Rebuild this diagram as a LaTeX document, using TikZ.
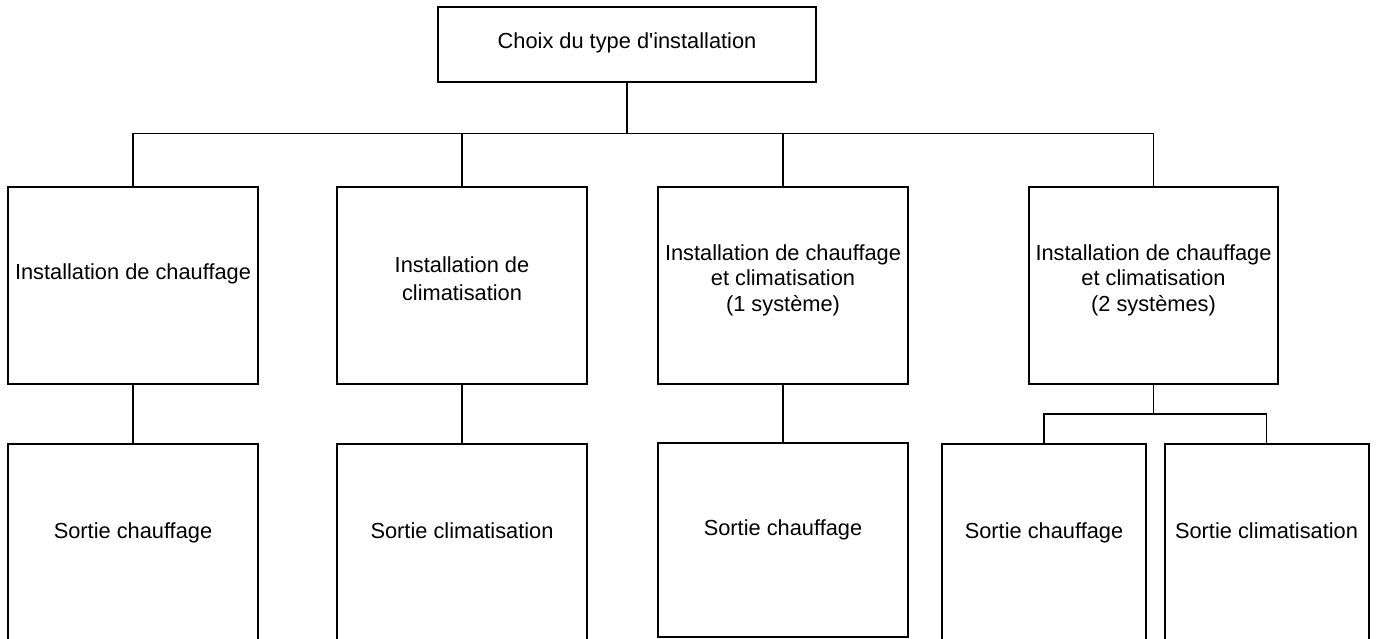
\documentclass[tikz,border=0pt]{standalone}
\usepackage{fontspec}
\setmainfont{Liberation Sans}
\begin{document}
\begin{tikzpicture}[x=1pt,y=-1pt,
  box/.style={draw=black,line width=2pt,rectangle,inner sep=0pt},
  txt/.style={anchor=base,inner sep=0pt,font=\fontsize{21.8}{25.6}\selectfont},
  conn/.style={line width=1.6pt},
  thinconn/.style={line width=1pt}]
\useasboundingbox (0,0) rectangle (1376,639);
\clip (0,0) rectangle (1376,639);

% top box
\node[box,minimum width=378pt,minimum height=74.5pt] (top) at (627,44.75) {};
\node[txt] (ttop) at (627,49) {Choix du type d\textquotesingle installation};

% row 2
\node[box,minimum width=250pt,minimum height=197pt] (r2a) at (133,285.2) {};
\node[box,minimum width=250pt,minimum height=197pt] (r2b) at (462,285.2) {};
\node[box,minimum width=250pt,minimum height=197pt] (r2c) at (783,285.2) {};
\node[box,minimum width=249pt,minimum height=197pt] (r2d) at (1153.5,285.2) {};

\node[txt] (t2a) at (133,279) {Installation de chauffage};
\node[txt] (t2b1) at (462,272.5) {Installation de};
\node[txt] (t2b2) at (462,300) {climatisation};
\node[txt] (t2c1) at (783,260) {Installation de chauffage};
\node[txt] (t2c2) at (783,285.5) {et climatisation};
\node[txt] (t2c3) at (783,311) {(1 système)};
\node[txt] (t2d1) at (1153.5,260) {Installation de chauffage};
\node[txt] (t2d2) at (1153.5,285.5) {et climatisation};
\node[txt] (t2d3) at (1153.5,311) {(2 systèmes)};

% row 3
\node[box,minimum width=250pt,minimum height=236pt] (r3a) at (133,562) {};
\node[box,minimum width=250pt,minimum height=236pt] (r3b) at (462,562) {};
\node[box,minimum width=250pt,minimum height=193.8pt] (r3c) at (783,539.6) {};
\node[box,minimum width=204pt,minimum height=236pt] (r3e) at (1044,562) {};
\node[box,minimum width=204pt,minimum height=236pt] (r3f) at (1266.5,562) {};

\node[txt] (t3a) at (133,538) {Sortie chauffage};
\node[txt] (t3b) at (462,538) {Sortie climatisation};
\node[txt] (t3c) at (783,535) {Sortie chauffage};
\node[txt] (t3e) at (1044,538) {Sortie chauffage};
\node[txt] (t3f) at (1266.5,538) {Sortie climatisation};

% connectors
\coordinate (bus) at (627,133.5);
\draw[conn] (top.south) -- (bus);
\draw[conn] (r2a.north) |- (bus) -- (r2d.north |- bus);
\draw[thinconn] (r2d.north |- bus) -- (r2d.north);
\draw[conn] (r2b.north) -- (r2b.north |- bus);
\draw[conn] (r2c.north) -- (r2c.north |- bus);

\draw[conn] (r2a.south) -- (r3a.north);
\draw[conn] (r2b.south) -- (r3b.north);
\draw[conn] (r2c.south) -- (r3c.north);

\coordinate (split) at (1153.5,413.7);
\draw[thinconn] (r2d.south) -- (split);
\draw[conn] (r3e.north) |- (split) -| (r3f.north);
\end{tikzpicture}
\end{document}
